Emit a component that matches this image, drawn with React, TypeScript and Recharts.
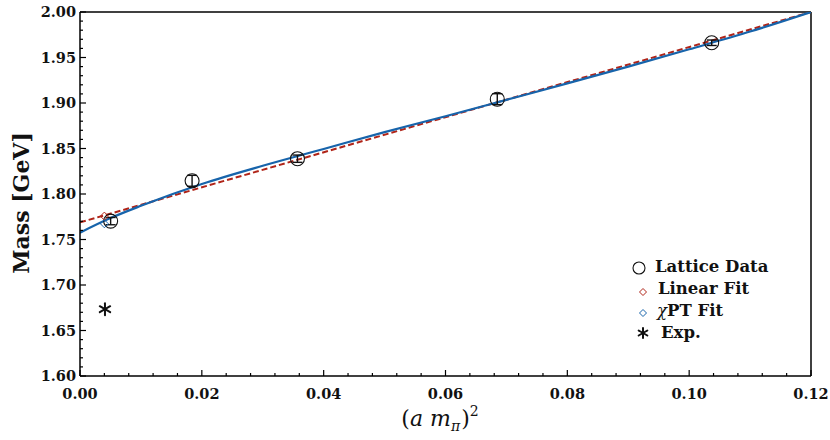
import React from 'react'
import {
  ComposedChart,
  Line,
  Scatter,
  ErrorBar,
  XAxis,
  YAxis,
  ReferenceLine,
  Customized,
} from 'recharts'

// lattice points: (a m_pi)^2, mass, error
const latticeX = [0.00503, 0.0184, 0.0357, 0.0685, 0.1037]
const latticeMass = [1.7702, 1.8145, 1.8388, 1.9042, 1.9662]
const latticeErr = [0.004, 0.006, 0.004, 0.006, 0.003]

// linear fit endpoints
const linearX = [0, 0.12]
const linearMass = [1.7688, 2.0]

// chiral PT fit curve
const chptX = [0, 0.005, 0.01, 0.02, 0.03, 0.04, 0.05, 0.06, 0.07, 0.08, 0.09, 0.1, 0.11, 0.12]
const chptMass = [1.7575, 1.7735, 1.787, 1.811, 1.831, 1.8495, 1.868, 1.8855, 1.9035, 1.9215, 1.94, 1.959, 1.9785, 2.0]

// extrapolated values at the physical pion mass + experiment
const physX = 0.004
const linearPhys = 1.7757
const chptPhys = 1.7673
const expX = 0.0041
const expMass = 1.6734

const xMajor = [0, 0.02, 0.04, 0.06, 0.08, 0.1, 0.12]
const yMajor = [1.6, 1.65, 1.7, 1.75, 1.8, 1.85, 1.9, 1.95, 2.0]

const xTicks = Array.from({ length: 31 }, (_, i) => +(i * 0.004).toFixed(3))
const yTicks = Array.from({ length: 41 }, (_, i) => +(1.6 + i * 0.01).toFixed(2))

const FONT = "'DejaVu Serif', serif"
const RED = '#b02418'
const BLUE = '#1764ab'

const zip = (xs: number[], ys: number[]) => xs.map((x, i) => ({ x, y: ys[i] }))

const latticeData = latticeX.map((x, i) => ({ x, y: latticeMass[i], err: latticeErr[i] }))
const linearData = zip(linearX, linearMass)
const chptData = zip(chptX, chptMass)

const isMajor = (v: number, list: number[]) => list.some((m) => Math.abs(m - v) < 1e-6)

const XTick = (props: any) => {
  const { x, y, payload } = props
  const major = isMajor(payload.value, xMajor)
  return (
    <g>
      <line x1={x} y1={y} x2={x} y2={y - (major ? 6 : 3)} stroke="#000" strokeWidth={1.2} />
      {major && (
        <text x={x} y={y + 23} textAnchor="middle" fontFamily={FONT} fontWeight="bold" fontSize={14.5} fill="#111">
          {payload.value.toFixed(2)}
        </text>
      )}
    </g>
  )
}

const YTick = (props: any) => {
  const { x, y, payload } = props
  const major = isMajor(payload.value, yMajor)
  return (
    <g>
      <line x1={x} y1={y} x2={x + (major ? 6 : 3)} y2={y} stroke="#000" strokeWidth={1.2} />
      {major && (
        <text x={x - 4} y={y + 5} textAnchor="end" fontFamily={FONT} fontWeight="bold" fontSize={14.5} fill="#111">
          {payload.value.toFixed(2)}
        </text>
      )}
    </g>
  )
}

const Ring = (props: any) => (
  <circle cx={props.cx} cy={props.cy} r={7} fill="none" stroke="#111" strokeWidth={1.1} />
)

const diamond = (cx: number, cy: number, color: string, s = 4) => (
  <path
    d={`M${cx},${cy - s} L${cx + s},${cy} L${cx},${cy + s} L${cx - s},${cy} Z`}
    fill="none"
    stroke={color}
    strokeWidth={1}
  />
)

const star = (cx: number, cy: number, s = 6) => (
  <g stroke="#111" strokeWidth={2} strokeLinecap="round">
    {[0, 60, 120].map((a) => {
      const r = (a * Math.PI) / 180
      const dx = Math.sin(r) * s
      const dy = Math.cos(r) * s
      return <line key={a} x1={cx - dx} y1={cy - dy} x2={cx + dx} y2={cy + dy} />
    })}
  </g>
)

const DiamondRed = (props: any) => diamond(props.cx, props.cy, RED)
const DiamondBlue = (props: any) => diamond(props.cx, props.cy, BLUE)
const StarShape = (props: any) => star(props.cx, props.cy)

const LegendBox = () => {
  const tx = 655
  const txt = (y: number, s: React.ReactNode, dx = 0) => (
    <text x={tx + dx} y={y} fontFamily={FONT} fontWeight="bold" fontSize={16.5} fill="#111">
      {s}
    </text>
  )
  return (
    <g>
      <circle cx={639} cy={268} r={6} fill="none" stroke="#111" strokeWidth={1.1} />
      {txt(272, 'Lattice Data')}
      {diamond(643, 292, RED, 3.5)}
      {txt(294, 'Linear Fit', 3)}
      {diamond(643, 313, BLUE, 3.5)}
      {txt(316, (
        <>
          <tspan fontStyle="italic" fontWeight="normal">χ</tspan>PT Fit
        </>
      ), 2)}
      {star(643, 333, 5)}
      {txt(338, 'Exp.', 6)}
      <text
        x={21}
        y={203}
        transform="rotate(-90 21 203)"
        textAnchor="middle"
        dominantBaseline="central"
        fontFamily={FONT}
        fontWeight="bold"
        fontSize={22}
        fill="#111"
      >
        Mass [GeV]
      </text>
      <text x={440} y={426} textAnchor="middle" fontFamily={FONT} fontSize={22} fill="#111">
        (<tspan fontStyle="italic">a</tspan>
        {'  '}
        <tspan fontStyle="italic">m</tspan>
        <tspan fontStyle="italic" fontSize={14} dy={5}>π</tspan>
        <tspan dx={1} fontSize={22} dy={-5}>)</tspan>
        <tspan fontSize={14} dy={-10}>2</tspan>
      </text>
    </g>
  )
}

export default function App() {
  return (
    <div style={{ position: 'absolute', left: 0, top: 0, background: '#fff' }}>
      <ComposedChart width={830} height={440} margin={{ top: 12, right: 19, left: 8, bottom: 24 }}>
        <XAxis
          type="number"
          dataKey="x"
          domain={[0, 0.12]}
          ticks={xTicks}
          interval={0}
          tickSize={0}
          tickMargin={0}
          tick={<XTick />}
          height={40}
          axisLine={{ stroke: '#000', strokeWidth: 1.5 }}
          allowDataOverflow
        />
        <YAxis
          type="number"
          dataKey="y"
          domain={[1.6, 2.0]}
          ticks={yTicks}
          interval={0}
          tickSize={0}
          tickMargin={0}
          tick={<YTick />}
          width={72}
          axisLine={{ stroke: '#000', strokeWidth: 1.5 }}
          allowDataOverflow
        />
        <ReferenceLine y={2.0} stroke="#000" strokeWidth={1.5} />
        <ReferenceLine x={0.12} stroke="#000" strokeWidth={1.5} />
        <Line
          data={linearData}
          dataKey="y"
          type="linear"
          stroke={RED}
          strokeWidth={2}
          strokeDasharray="6 3"
          dot={false}
          isAnimationActive={false}
        />
        <Line
          data={chptData}
          dataKey="y"
          type="monotone"
          stroke={BLUE}
          strokeWidth={2.2}
          dot={false}
          isAnimationActive={false}
        />
        <Scatter data={latticeData} dataKey="y" shape={<Ring />} isAnimationActive={false}>
          <ErrorBar dataKey="err" direction="y" width={5} stroke="#111" strokeWidth={1.4} />
        </Scatter>
        <Scatter data={[{ x: physX, y: linearPhys }]} dataKey="y" shape={<DiamondRed />} isAnimationActive={false} />
        <Scatter data={[{ x: physX, y: chptPhys }]} dataKey="y" shape={<DiamondBlue />} isAnimationActive={false} />
        <Scatter data={[{ x: expX, y: expMass }]} dataKey="y" shape={<StarShape />} isAnimationActive={false} />
        <Customized component={LegendBox} />
      </ComposedChart>
    </div>
  )
}
